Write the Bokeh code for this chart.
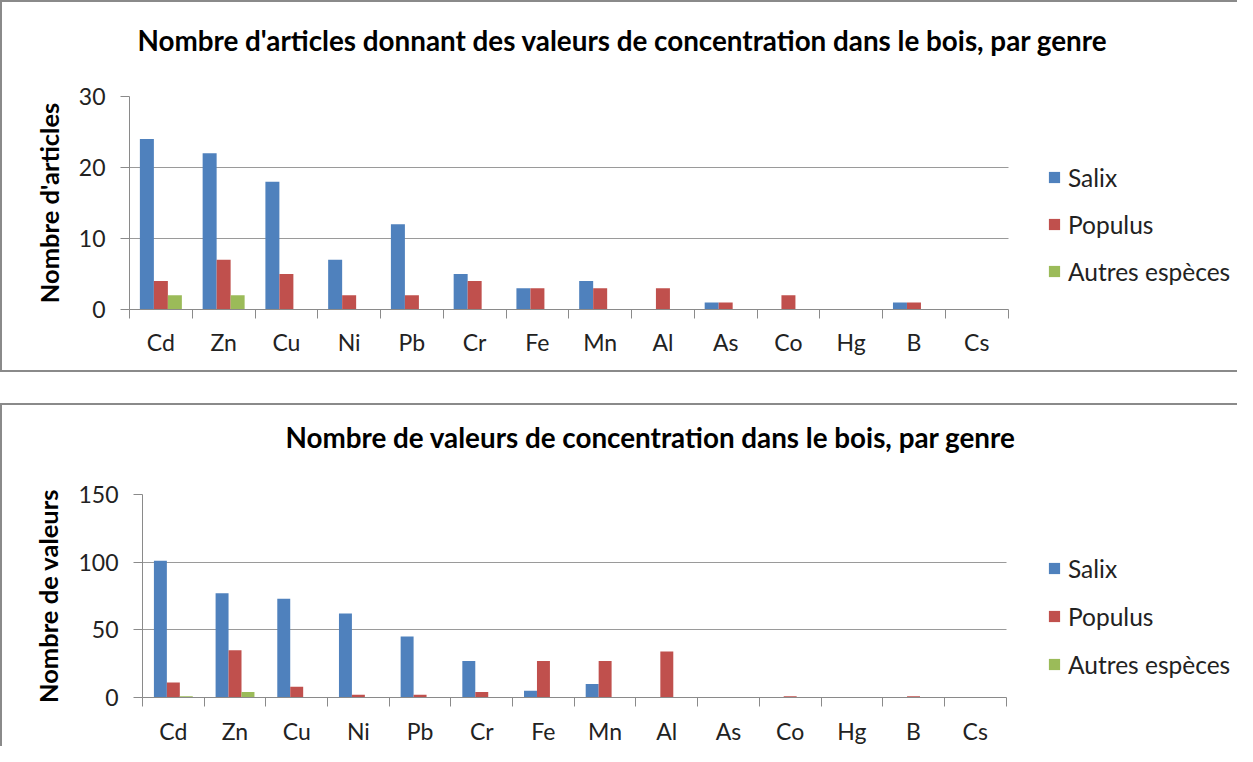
from bokeh.plotting import figure
from bokeh.models import (ColumnDataSource, Range1d, FixedTicker, Legend, LegendItem, Title)
from bokeh.models import Grid
from bokeh.layouts import column
from bokeh.transform import dodge
from bokeh.embed import file_html
from bokeh.resources import INLINE

elements = ["Cd", "Zn", "Cu", "Ni", "Pb", "Cr", "Fe", "Mn", "Al", "As", "Co", "Hg", "B", "Cs"]
series = ["Salix", "Populus", "Autres espèces"]
colors = ["#4F81BD", "#C0504D", "#9BBB59"]

articles_salix = [24, 22, 18, 7, 12, 5, 3, 4, 0, 1, 0, 0, 1, 0]
articles_populus = [4, 7, 5, 2, 2, 4, 3, 3, 3, 1, 2, 0, 1, 0]
articles_autres = [2, 2, 0, 0, 0, 0, 0, 0, 0, 0, 0, 0, 0, 0]

valeurs_salix = [101, 77, 73, 62, 45, 27, 5, 10, 0, 0, 0, 0, 0, 0]
valeurs_populus = [11, 35, 8, 2, 2, 4, 27, 27, 34, 0, 1, 0, 1, 0]
valeurs_autres = [1, 4, 0, 0, 0, 0, 0, 0, 0, 0, 0, 0, 0, 0]

title1 = "Nombre d'articles donnant des valeurs de concentration dans le bois, par genre"
title2 = "Nombre de valeurs de concentration dans le bois, par genre"
ylabel1 = "Nombre d'articles"
ylabel2 = "Nombre de valeurs"
yticks1 = [0, 10, 20, 30]
yticks2 = [0, 50, 100, 150]

FONT = "Lato"
GREY = "#8a8a8a"
GRID = "#9a9a9a"
TXT = "#222222"
HAS_CROSS = "cross_bounds" in Grid.properties()


def make_chart(title, ylabel, yticks, vals, width, height, borders, cat_px, box_style,
               title_offset, spacer_standoff, bar_w, legend_loc, legend_spacing,
               xstand, ylab_stand):
    n = len(elements)
    xc = [i + 0.5 for i in range(n)]
    data = dict(xc=xc, el=elements, s0=vals[0], s1=vals[1], s2=vals[2])
    src = ColumnDataSource(data)
    left, right, top, bottom = borders
    # the plot area runs on to the right edge; the part after the last category holds the legend
    extra = (width - 2 - left - right) / cat_px - n
    p = figure(width=width, height=height, output_backend="svg", toolbar_location=None,
               x_range=Range1d(0, n + extra), y_range=Range1d(yticks[0], yticks[-1]),
               min_border_left=left, min_border_right=right, min_border_top=top,
               min_border_bottom=bottom, tools="", title=None)
    st = {"border": "2px solid " + GREY, "box-sizing": "border-box", "border-right": "none"}
    st.update(box_style)
    p.styles = st
    p.outline_line_color = None
    p.background_fill_color = "white"
    p.border_fill_color = "white"

    renderers = []
    for k in range(3):
        off = (k - 1) * bar_w
        r = p.vbar(x=dodge("xc", off, range=p.x_range), top="s%d" % k, width=bar_w,
                   source=src, fill_color=colors[k], line_color=None)
        renderers.append(r)

    # title: a blank spacer panel next to the frame, then the title itself
    p.add_layout(Title(text=" ", text_font_size="10px", standoff=spacer_standoff), "above")
    p.add_layout(Title(text=title, align="left", offset=title_offset, vertical_align="middle",
                       text_font=FONT, text_font_size="27.8px", text_font_style="bold",
                       text_color="black", standoff=0), "above")

    # x axis (category boundaries as small ticks, names centred)
    xa = p.xaxis[0]
    xa.bounds = (0, n)
    xa.ticker = FixedTicker(ticks=xc, minor_ticks=list(range(n + 1)))
    xa.major_label_overrides = {x: e for x, e in zip(xc, elements)}
    xa.major_tick_out = 0
    xa.major_tick_in = 0
    xa.minor_tick_out = 9
    xa.minor_tick_in = 0
    xa.minor_tick_line_color = GREY
    xa.axis_line_color = GREY
    xa.major_label_text_font = FONT
    xa.major_label_text_font_size = "23px"
    xa.major_label_text_color = TXT
    xa.major_label_standoff = xstand

    # y axis
    ya = p.yaxis[0]
    ya.ticker = FixedTicker(ticks=yticks, minor_ticks=[])
    ya.major_tick_out = 9
    ya.major_tick_in = 0
    ya.major_tick_line_color = GREY
    ya.axis_line_color = GREY
    ya.minor_tick_out = 0
    ya.minor_tick_in = 0
    ya.major_label_text_font = FONT
    ya.major_label_text_font_size = "23px"
    ya.major_label_text_color = TXT
    ya.major_label_standoff = 15
    ya.axis_label = ylabel
    ya.axis_label_text_font = FONT
    ya.axis_label_text_font_size = "25.5px"
    ya.axis_label_text_font_style = "bold"
    ya.axis_label_text_color = "black"
    ya.axis_label_standoff = ylab_stand

    p.xgrid.grid_line_color = None
    if HAS_CROSS:
        p.ygrid.grid_line_color = GRID
        p.ygrid.ticker = FixedTicker(ticks=yticks)
        p.ygrid.cross_bounds = (0, n)
    else:
        p.ygrid.grid_line_color = None
        p.segment(x0=0, x1=n, y0=yticks, y1=yticks, line_color=GRID, line_width=1)

    legend = Legend(items=[LegendItem(label=s, renderers=[r]) for s, r in zip(series, renderers)],
                    location=legend_loc, orientation="vertical",
                    glyph_width=14, glyph_height=14, label_standoff=7,
                    spacing=legend_spacing, padding=0, margin=0,
                    border_line_color=None, background_fill_alpha=0,
                    label_text_font=FONT, label_text_font_size="24.5px",
                    label_text_color=TXT, label_height=24)
    p.add_layout(legend, "center")
    return p


p1 = make_chart(title1, ylabel1, yticks1, [articles_salix, articles_populus, articles_autres],
                1237, 372, (127, 0, 94, 65), 877 / 14, {},
                8, 26, 0.223, (918, 23.5), 18, 9, 12)
p2 = make_chart(title2, ylabel2, yticks2, [valeurs_salix, valeurs_populus, valeurs_autres],
                1237, 343, (140, 0, 89, 51), 862 / 14, {"border-bottom": "none"},
                143, 27, 0.21, (905, 18.5), 19, 10, 12)

layout = column(column(p1), column(p2), spacing=31)

open("out.html", "w").write(file_html(layout, INLINE))
